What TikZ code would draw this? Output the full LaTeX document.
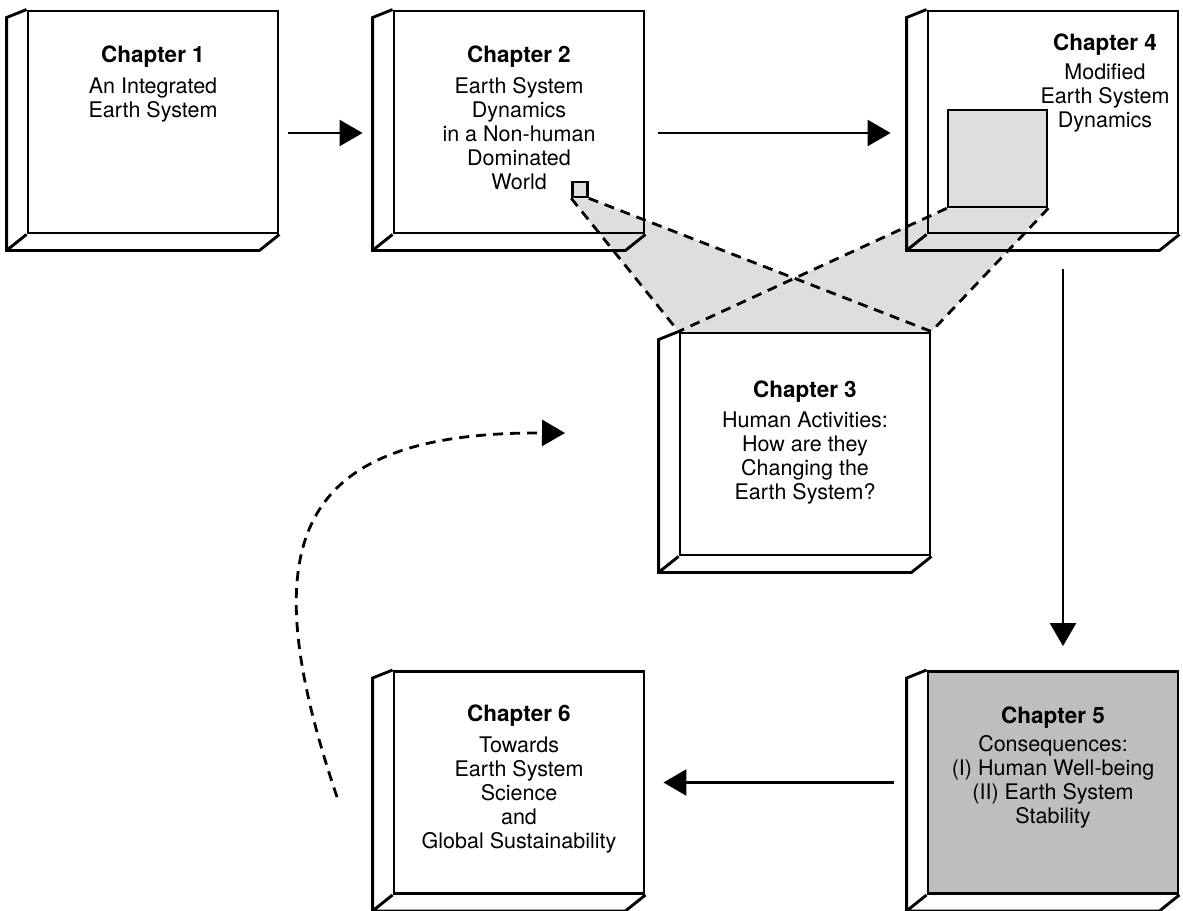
\documentclass[tikz,border=0pt]{standalone}
\usepackage{fontspec}
\setmainfont{TeX Gyre Heros}
\usetikzlibrary{positioning,arrows.meta,backgrounds}
\definecolor{conegray}{RGB}{221,222,224}
\definecolor{boxgray}{RGB}{190,190,191}

% left and bottom faces of a chapter block
\newcommand{\sidefaces}[1]{%
  \draw[boxline] (#1.north west) -- ++(-20,8) |- ([xshift=-20pt,yshift=-16pt]#1.south east) -- (#1.south east)
    (#1.south west) -- ++(-20,16);}
\newcommand{\chap}[1]{{\fontsize{22.5}{24}\selectfont\bfseries Chapter #1}}

\begin{document}
\begin{tikzpicture}[x=1pt,y=-1pt]
\tikzstyle{boxline}=[line width=2.9pt,line join=miter]
\tikzstyle{front}=[draw,boxline,minimum width=250pt,minimum height=222pt,inner sep=0pt]
\tikzstyle{txt}=[align=center,inner sep=0pt,font=\fontsize{21.5}{24}\selectfont]
\tikzstyle{link}=[line width=2.6pt,-{Triangle[length=23pt,width=26pt]}]
\tikzstyle{zoomline}=[line width=2.8pt,dash pattern=on 10pt off 7pt]
\tikzstyle{zoomsq}=[draw,fill=conegray,line width=2.6pt,inner sep=0pt]
\useasboundingbox (0,0) rectangle (1183,910);

\node[front] (c1) at (153,122) {};
\node[front] (c2) at (519,122) {};
\node[front] (c4) at (1053,122) {};
\node[front] (c3) at (805,444) {};
\node[front,fill=boxgray] (c5) at (1053,782.5) {};
\node[front] (c6) at (519,782.5) {};
\foreach \c in {c1,c2,c3,c4,c5,c6} {\sidefaces{\c}}

\node[txt,below=36pt of c1.north] {\chap{1}\\[7pt] An Integrated\\Earth System};
\node[txt,below=36pt of c2.north] {\chap{2}\\[7pt] Earth System\\Dynamics\\in a Non-human\\Dominated\\World};
\node[txt,below=49pt of c3.north] {\chap{3}\\[6pt] Human Activities:\\How are they\\Changing the\\Earth System?};
\node[txt,below=24pt of c4.north,xshift=52pt] {\chap{4}\\[5pt] Modified\\Earth System\\Dynamics};
\node[txt,below=37pt of c5.north] {\chap{5}\\[4pt] Consequences:\\(I) Human Well-being\\(II) Earth System\\Stability};
\node[txt,below=35pt of c6.north] {\chap{6}\\[7pt] Towards\\Earth System\\Science\\and\\Global Sustainability};

\node[zoomsq,minimum size=15pt] (sq2) at (580,189.5) {};
\node[zoomsq,minimum width=99pt,minimum height=97pt] (sq4) at (997.5,158.5) {};

\begin{scope}[on background layer]
\fill[conegray] (sq2.south west) -- (sq2.south east) -- (c3.north east) -- (c3.north west) -- cycle;
\fill[conegray] (sq4.south west) -- (sq4.south east) -- (c3.north east) -- (c3.north west) -- cycle;
\end{scope}
\draw[zoomline] (sq2.south west) -- (c3.north west) (sq2.south east) -- (c3.north east);
\draw[zoomline] (sq4.south west) -- (c3.north west) (sq4.south east) -- (c3.north east);

\draw[link] ([xshift=9pt,yshift=-11pt]c1.east) -- ([xshift=-30pt,yshift=-11pt]c2.west);
\draw[link] ([xshift=13pt,yshift=-11pt]c2.east) -- ([xshift=-36pt,yshift=-11pt]c4.west);
\draw[link] ([xshift=10pt,yshift=-35pt]c4.south) -- ([xshift=10pt,yshift=24pt]c5.north);
\draw[link] ([xshift=-33pt]c5.west) -- ([xshift=18pt]c6.east);

\coordinate (loopstart) at (337,797);
\coordinate (loopend) at (565,433);
\draw[zoomline,-{Triangle[length=23pt,width=26pt]}] (loopstart) .. controls (250,540) and (295,432) .. (loopend);
\end{tikzpicture}
\end{document}
